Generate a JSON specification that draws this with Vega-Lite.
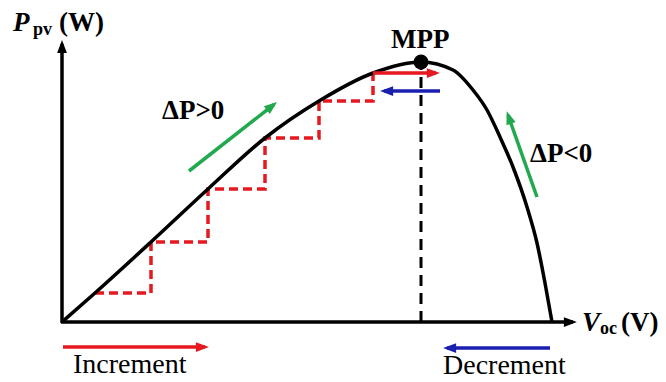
{
  "$schema": "https://vega.github.io/schema/vega-lite/v6.json",
  "width": 666,
  "height": 382,
  "autosize": {"type": "none"},
  "padding": 0,
  "background": "white",
  "config": {"view": {"stroke": null}, "text": {"font": "Times New Roman, Liberation Serif, DejaVu Serif, serif"}},
  "datasets": {
    "curve": [
      {"v": 0, "p": 0}, {"v": 33, "p": 29}, {"v": 89, "p": 80}, {"v": 146, "p": 133},
      {"v": 203, "p": 184}, {"v": 257, "p": 221}, {"v": 311, "p": 249}, {"v": 359, "p": 260},
      {"v": 391, "p": 252}, {"v": 411, "p": 232}, {"v": 425, "p": 212}, {"v": 438, "p": 185},
      {"v": 451, "p": 155}, {"v": 465, "p": 115}, {"v": 475, "p": 79}, {"v": 483, "p": 39},
      {"v": 490, "p": 0}
    ],
    "steps": [
      {"v": 33, "p": 29}, {"v": 89, "p": 80}, {"v": 146, "p": 133},
      {"v": 203, "p": 184}, {"v": 257, "p": 221}, {"v": 311, "p": 249}
    ],
    "mppline": [{"v": 359, "p": 0, "v2": 359, "p2": 256}],
    "mppdot": [{"v": 359, "p": 260}],
    "arrows": [
      {"kind": "axis", "v": 0, "p": -1, "v2": 0, "p2": 278},
      {"kind": "axis", "v": -1, "p": 0, "v2": 511, "p2": 0},
      {"kind": "increment", "v": 311, "p": 249, "v2": 374, "p2": 249},
      {"kind": "decrement", "v": 378, "p": 231, "v2": 322, "p2": 231},
      {"kind": "trend", "v": 127, "p": 151, "v2": 212, "p2": 217.5},
      {"kind": "trend", "v": 475, "p": 125, "v2": 446, "p2": 207},
      {"kind": "increment", "v": 1, "p": -25, "v2": 143, "p2": -25},
      {"kind": "decrement", "v": 488, "p": -26, "v2": 385, "p2": -26}
    ],
    "labels": [
      {"role": "plain", "v": 11, "p": -51, "label": "Increment"},
      {"role": "plain", "v": 381, "p": -52, "label": "Decrement"},
      {"role": "bold", "v": 100, "p": 203, "label": "ΔP>0"},
      {"role": "bold", "v": 468, "p": 160, "label": "ΔP<0"},
      {"role": "bold", "v": 329, "p": 274, "label": "MPP"},
      {"role": "bold", "v": -3, "p": 291, "label": "(W)"},
      {"role": "bold", "v": 559, "p": -9, "label": "(V)"},
      {"role": "italic", "v": -49, "p": 291, "label": "P"},
      {"role": "italic", "v": 520, "p": -9, "label": "V"},
      {"role": "sub", "v": -29, "p": 287, "label": "pv"},
      {"role": "sub", "v": 538, "p": -12, "label": "oc"}
    ]
  },
  "encoding": {
    "x": {"field": "v", "type": "quantitative", "scale": {"domain": [-62, 604], "nice": false, "zero": false}, "axis": null},
    "y": {"field": "p", "type": "quantitative", "scale": {"domain": [-60, 322], "nice": false, "zero": false}, "axis": null}
  },
  "layer": [
    {
      "data": {"name": "mppline"},
      "mark": {"type": "rule", "color": "black", "strokeWidth": 3, "strokeDash": [11, 7]},
      "encoding": {"x2": {"field": "v2"}, "y2": {"field": "p2"}}
    },
    {
      "data": {"name": "steps"},
      "mark": {"type": "line", "interpolate": "step-after", "color": "#e5191f", "strokeWidth": 3.5, "strokeDash": [9, 5]}
    },
    {
      "data": {"name": "curve"},
      "mark": {"type": "line", "interpolate": "monotone", "color": "black", "strokeWidth": 3.5}
    },
    {
      "data": {"name": "arrows"},
      "mark": {"type": "rule", "strokeWidth": 3.5},
      "encoding": {
        "x2": {"field": "v2"},
        "y2": {"field": "p2"},
        "color": {"field": "kind", "type": "nominal", "scale": {"domain": ["axis", "increment", "decrement", "trend"], "range": ["#000000", "#e5191f", "#1b1fae", "#22a84e"]}, "legend": null}
      }
    },
    {
      "data": {"name": "arrows"},
      "transform": [{"calculate": "atan2(datum.v2 - datum.v, datum.p2 - datum.p) * 180 / PI", "as": "heading"}],
      "mark": {"type": "point", "shape": "M0,-0.6L-0.75,1.4L0.75,1.4Z", "filled": true, "opacity": 1, "size": 169, "strokeWidth": 0},
      "encoding": {
        "x": {"field": "v2", "type": "quantitative", "axis": null},
        "y": {"field": "p2", "type": "quantitative", "axis": null},
        "angle": {"field": "heading", "type": "quantitative", "scale": null},
        "color": {"field": "kind", "type": "nominal", "scale": {"domain": ["axis", "increment", "decrement", "trend"], "range": ["#000000", "#e5191f", "#1b1fae", "#22a84e"]}, "legend": null}
      }
    },
    {
      "data": {"name": "mppdot"},
      "mark": {"type": "point", "shape": "circle", "filled": true, "opacity": 1, "size": 225, "color": "black"}
    },
    {
      "data": {"name": "labels"},
      "transform": [{"filter": "datum.role === 'plain'"}],
      "mark": {"type": "text", "align": "left", "baseline": "alphabetic", "fontSize": 28, "color": "black"},
      "encoding": {"text": {"field": "label"}}
    },
    {
      "data": {"name": "labels"},
      "transform": [{"filter": "datum.role === 'bold'"}],
      "mark": {"type": "text", "align": "left", "baseline": "alphabetic", "fontSize": 27, "fontWeight": "bold", "color": "black"},
      "encoding": {"text": {"field": "label"}}
    },
    {
      "data": {"name": "labels"},
      "transform": [{"filter": "datum.role === 'italic'"}],
      "mark": {"type": "text", "align": "left", "baseline": "alphabetic", "fontSize": 27, "fontWeight": "bold", "fontStyle": "italic", "color": "black"},
      "encoding": {"text": {"field": "label"}}
    },
    {
      "data": {"name": "labels"},
      "transform": [{"filter": "datum.role === 'sub'"}],
      "mark": {"type": "text", "align": "left", "baseline": "alphabetic", "fontSize": 18, "fontWeight": "bold", "color": "black"},
      "encoding": {"text": {"field": "label"}}
    }
  ]
}
